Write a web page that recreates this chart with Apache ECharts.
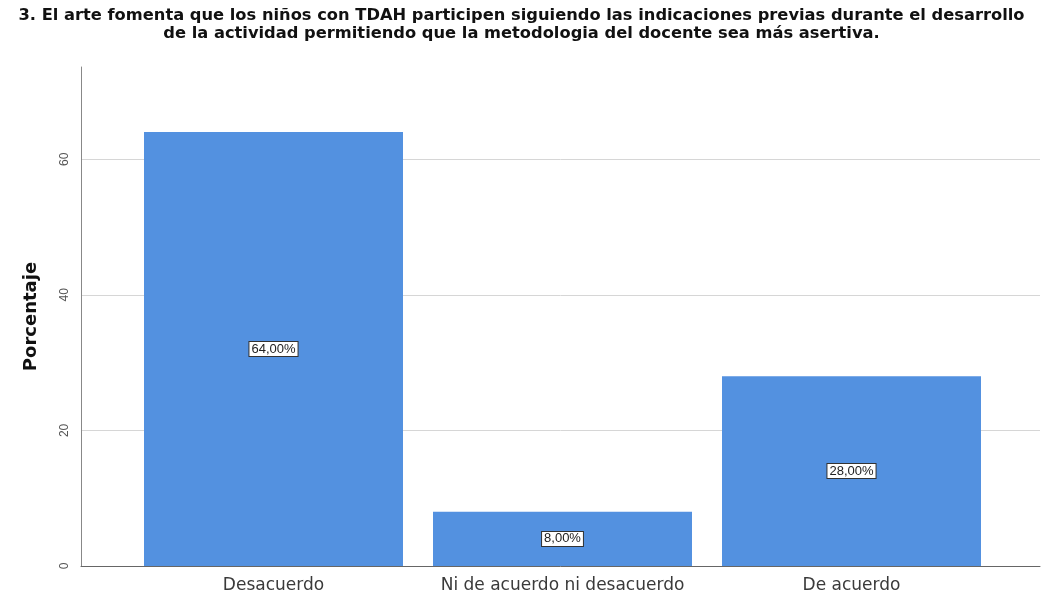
<!DOCTYPE html>
<html>
<head>
<meta charset="utf-8">
<script src="https://cdn.jsdelivr.net/npm/echarts@6/dist/echarts.min.js"></script>
<style>html,body{margin:0;padding:0;background:#fff}#c{width:1043px;height:598px}</style>
</head>
<body>
<div id="c"></div>
<script>
const titleLines = ['3. El arte fomenta que los niños con TDAH participen siguiendo las indicaciones previas durante el desarrollo', 'de la actividad permitiendo que la metodologia del docente sea más asertiva.'];
const categories = ['Desacuerdo', 'Ni de acuerdo ni desacuerdo', 'De acuerdo'];
const values = [64, 8, 28];
const valueLabels = ['64,00%', '8,00%', '28,00%'];
const yName = 'Porcentaje';

const chart = echarts.init(document.getElementById('c'));
const FONT = 'Liberation Sans';
const WIDE = 'DejaVu Sans';
const YMAX = 73.6;
chart.setOption({
  animation: false,
  textStyle: { fontFamily: FONT },
  title: {
    text: titleLines.join('\n'),
    left: 'center', top: 2,
    textStyle: { fontFamily: WIDE, fontWeight: 'bold', fontSize: 16.3, lineHeight: 18, color: '#111' }
  },
  grid: [
    { left: 81, right: 3, top: 67, bottom: 32 },
    { left: 129, right: 47, top: 67, bottom: 32 }
  ],
  xAxis: [
    { gridIndex: 0, type: 'value', min: 0, max: 1,
      axisLine: { show: true, lineStyle: { color: '#666', width: 1 } },
      axisTick: { show: false }, axisLabel: { show: false }, splitLine: { show: false } },
    { gridIndex: 1, type: 'category', data: categories,
      axisLine: { show: false }, axisTick: { show: false },
      axisLabel: { interval: 0, fontFamily: WIDE, fontSize: 17, color: '#3a3a3a', margin: 11 } }
  ],
  yAxis: [
    { gridIndex: 0, type: 'value', min: 0, max: YMAX, interval: 20,
      name: yName, nameLocation: 'middle', nameGap: 41,
      nameTextStyle: { fontFamily: WIDE, fontWeight: 'bold', fontSize: 18, color: '#111' },
      axisLine: { show: true, lineStyle: { color: '#888' } },
      axisTick: { show: false },
      axisLabel: { rotate: 90, fontSize: 12, color: '#555', margin: 10, showMaxLabel: false },
      splitLine: { show: true, lineStyle: { color: ['#d6d6d6', '#d6d6d6', '#d6d6d6', '#d6d6d6', 'rgba(0,0,0,0)'] } } },
    { gridIndex: 1, type: 'value', min: 0, max: YMAX, show: false, splitLine: { show: false } }
  ],
  series: [{
    type: 'bar', xAxisIndex: 1, yAxisIndex: 1,
    data: values,
    barWidth: 259,
    itemStyle: { color: '#5391e0' },
    label: {
      show: true, position: 'inside',
      formatter: p => valueLabels[p.dataIndex],
      fontSize: 13, color: '#222',
      backgroundColor: '#fff', borderColor: '#333', borderWidth: 1,
      padding: [1, 2, 0, 2]
    }
  }]
});
</script>
</body>
</html>
